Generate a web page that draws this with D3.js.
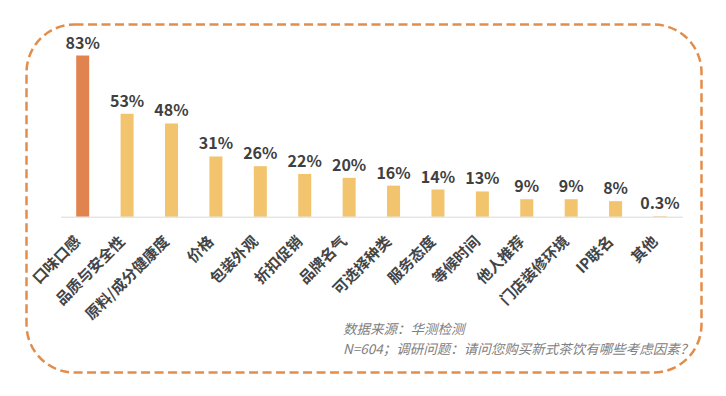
<!DOCTYPE html>
<html>
<head>
<meta charset="utf-8">
<script src="https://cdn.jsdelivr.net/npm/d3@7"></script>
<style>
  html, body { margin: 0; padding: 0; background: #ffffff; }
  svg { display: block; }
</style>
</head>
<body>
<svg id="chart" width="726" height="396"></svg>
<script>
const categories = ["口味口感", "品质与安全性", "原料/成分健康度", "价格", "包装外观", "折扣促销", "品牌名气", "可选择种类", "服务态度", "等候时间", "他人推荐", "门店装修环境", "IP联名", "其他"];
const values = [83, 53, 48, 31, 26, 22, 20, 16, 14, 13, 9, 9, 8, 0.3];
const valueLabels = ["83%", "53%", "48%", "31%", "26%", "22%", "20%", "16%", "14%", "13%", "9%", "9%", "8%", "0.3%"];
const footnotes = ["数据来源：华测检测", "N=604；调研问题：请问您购买新式茶饮有哪些考虑因素？"];

const FONT = "'Noto Sans CJK SC', 'Noto Sans', sans-serif";
const svg = d3.select("#chart");

// dashed rounded frame
svg.append("rect")
  .attr("x", 26.5).attr("y", 24.5)
  .attr("width", 675).attr("height", 348)
  .attr("rx", 48).attr("ry", 48)
  .attr("fill", "none")
  .attr("stroke", "#E38D4B")
  .attr("stroke-width", 2.5)
  .attr("stroke-dasharray", "9,4.5");

const baseY = 216.7;
const x = d3.scaleBand()
  .domain(categories)
  .range([60.5, 682.2])
  .paddingInner(0.707)
  .paddingOuter(0.3535);

const y = d3.scaleLinear()
  .domain([0, 100])
  .range([baseY, baseY - 194.2]);

const data = categories.map((c, i) => ({ c, v: values[i], lab: valueLabels[i], i }));

// bars
svg.append("g").selectAll("rect")
  .data(data)
  .join("rect")
  .attr("x", d => x(d.c))
  .attr("y", d => y(d.v))
  .attr("width", x.bandwidth())
  .attr("height", d => baseY - y(d.v))
  .attr("fill", d => d.i === 0 ? "#E0834F" : "#F2C46E");

// axis
const axis = svg.append("g")
  .attr("transform", `translate(0,${baseY})`)
  .call(d3.axisBottom(x).tickSize(0).tickSizeOuter(0));
axis.select(".domain").attr("stroke", "#d9d9d9").attr("stroke-width", 1);
axis.selectAll(".tick text")
  .attr("x", 0).attr("y", 0).attr("dy", "0.35em")
  .attr("transform", "translate(-5,22) rotate(-45)")
  .attr("text-anchor", "end")
  .attr("font-family", FONT)
  .attr("font-size", 15)
  .attr("font-weight", "bold")
  .attr("fill", "#444444");

// value labels
svg.append("g").selectAll("text")
  .data(data)
  .join("text")
  .attr("x", d => x(d.c) + x.bandwidth() / 2)
  .attr("y", d => y(d.v) - 7)
  .attr("text-anchor", "middle")
  .attr("font-family", FONT)
  .attr("font-size", 16)
  .attr("font-weight", "bold")
  .attr("fill", "#404040")
  .text(d => d.lab);

// footnotes
svg.append("g").selectAll("text")
  .data(footnotes)
  .join("text")
  .attr("x", 343)
  .attr("y", (d, i) => 334 + i * 20)
  .attr("font-family", FONT)
  .attr("font-size", 13.5)
  .attr("font-style", "italic")
  .attr("fill", "#808080")
  .text(d => d);
</script>
</body>
</html>
